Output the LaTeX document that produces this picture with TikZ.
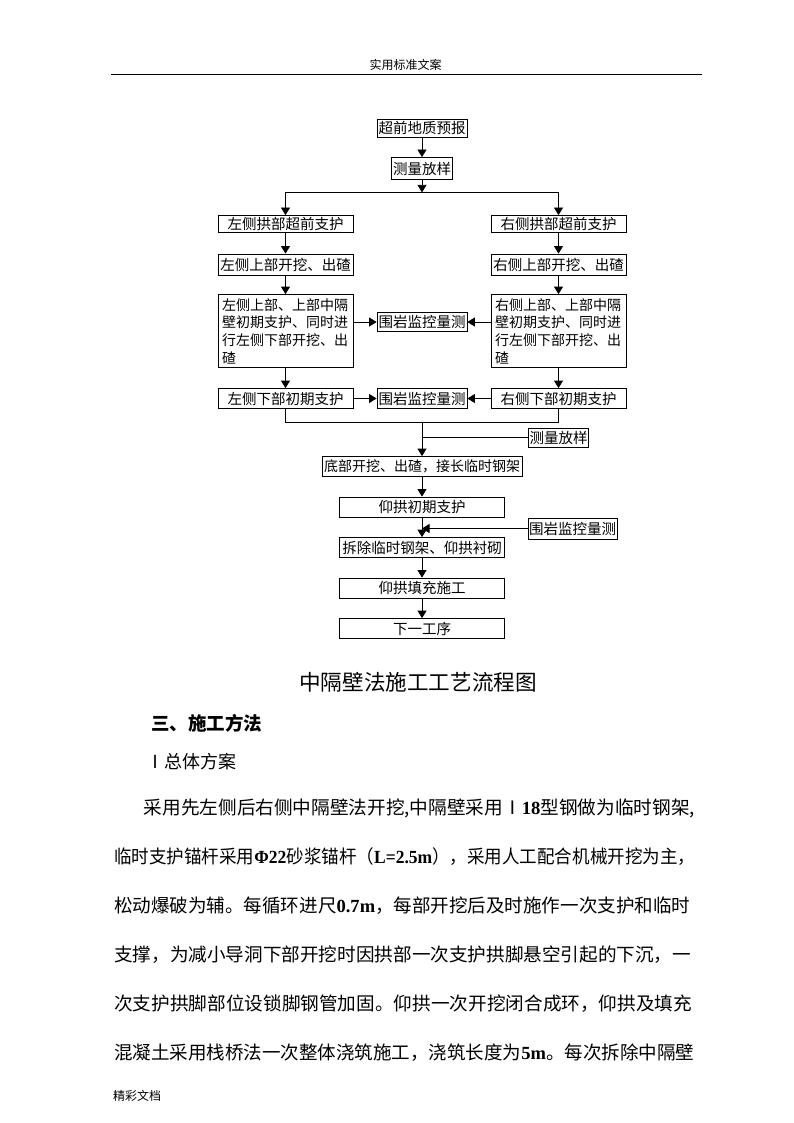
\documentclass[tikz,border=0pt]{standalone}
\usepackage{fontspec}
\usepackage{graphicx}
\setmainfont{Noto Sans CJK SC}
\newfontfamily\tnr{Liberation Serif}
\usetikzlibrary{arrows.meta, positioning}

\tikzstyle{process} = [rectangle, minimum width=135pt, minimum height=20pt, inner sep=0pt, text centered, draw=black, thick, font=\fontsize{14.5}{17.7}\selectfont]
\tikzstyle{bigbox} = [process, minimum height=73pt, text width=127pt, align=left, font=\fontsize{14}{17.7}\selectfont]
\tikzstyle{jiance} = [process, minimum width=90pt, minimum height=19pt]
\tikzstyle{zhuxian} = [process, minimum width=165pt]
\tikzstyle{zhengwen} = [anchor=west, inner sep=0pt, font=\fontsize{18.5}{18.5}\selectfont]
\tikzstyle{arrow} = [thick,->,>={Stealth[inset=0pt,length=7.5pt,width=9pt]}]

\begin{document}
\begin{tikzpicture}[x=1pt, y=-1pt, node distance=40.5pt]
\useasboundingbox (0,0) rectangle (794,1123);
 %页眉
\node (yemei) at (405.5,65) [font=\fontsize{12}{12}\selectfont] {实用标准文案};
\coordinate (yemeiL) at (111,74.5);
\coordinate (yemeiR) at (702,74.5);
\draw [thick] (yemeiL) -- (yemeiR);

 %流程框
\node (yubao) [process, minimum width=90pt, minimum height=18pt] at (422,128) {超前地质预报};
\node (celiang1) [process, below of=yubao, minimum width=61pt, minimum height=22pt] {测量放样};
\node (zuo1) [process, below of=celiang1, xshift=-136.5pt, yshift=-15pt, minimum height=17pt] {左侧拱部超前支护};
\node (you1) [process, below of=celiang1, xshift=136.5pt, yshift=-15pt, minimum height=17pt] {右侧拱部超前支护};
\node (zuo2) [process, below of=zuo1, minimum height=21pt] {左侧上部开挖、出碴};
\node (you2) [process, below of=you1, minimum height=21pt] {右侧上部开挖、出碴};
\node (zuo3) [bigbox, below of=zuo2, yshift=-26pt] {左侧上部、上部中隔\\壁初期支护、同时进\\行左侧下部开挖、出\\碴};
\node (you3) [bigbox, below of=you2, yshift=-26pt] {右侧上部、上部中隔\\壁初期支护、同时进\\行左侧下部开挖、出\\碴};
\node (jian1) [jiance, right of=zuo3, xshift=96pt, yshift=9pt] {围岩监控量测};
\node (zuo4) [process, below of=zuo3, yshift=-27pt] {左侧下部初期支护};
\node (you4) [process, below of=you3, yshift=-27pt] {右侧下部初期支护};
\node (jian2) [jiance, right of=zuo4, xshift=96pt, minimum height=20pt] {围岩监控量测};
\node (dibu) [process, below of=jian2, yshift=-27.5pt, minimum width=200pt, font=\fontsize{14}{14}\selectfont] {底部开挖、出碴，接长临时钢架};
\node (celiang2) [process, right of=dibu, xshift=96pt, yshift=29pt, minimum width=60pt, minimum height=19pt] {测量放样};
\node (yangong) [zhuxian, below of=dibu] {仰拱初期支护};
\node (jian3) [jiance, right of=yangong, xshift=110pt, yshift=-21.5pt, minimum width=89pt, minimum height=21pt] {围岩监控量测};
\node (chaichu) [zhuxian, below of=yangong] {拆除临时钢架、仰拱衬砌};
\node (tianchong) [zhuxian, below of=chaichu] {仰拱填充施工};
\node (xiayi) [zhuxian, below of=tianchong] {下一工序};

 %连线
\coordinate (fen1) at ([yshift=-12.5pt]celiang1.south);
\coordinate (he1) at ([yshift=-13pt]jian2.south);
\draw [arrow](yubao) -- (celiang1);
\draw [arrow](celiang1) -- (fen1);
\draw [arrow](fen1) -| (zuo1);
\draw [arrow](fen1) -| (you1);

 %左侧
\draw [arrow](zuo1) -- (zuo2);
\draw [arrow](zuo2) -- (zuo3);
\draw [arrow](zuo3) -- (zuo4);
\draw [arrow](zuo3.east |- jian1) -- (jian1);
\draw [arrow](zuo4) -- (jian2);

 %右侧
\draw [arrow](you1) -- (you2);
\draw [arrow](you2) -- (you3);
\draw [arrow](you3) -- (you4);
\draw [arrow](you3.west |- jian1) -- (jian1);
\draw [arrow](you4) -- (jian2);

 %合并
\draw (zuo4) |- (he1) -| (you4);
\draw [arrow](he1) -- (dibu);
\draw (celiang2) -- (celiang2 -| he1);

 %底部
\draw [arrow](dibu) -- (yangong);
\draw [arrow](yangong) -- (chaichu);
\draw [arrow](jian3) -- (jian3 -| chaichu);
\draw [arrow](chaichu) -- (tianchong);
\draw [arrow](tianchong) -- (xiayi);

 %正文
\node (biaoti) at (418,682) [font=\fontsize{21.6}{21.6}\selectfont] {中隔壁法施工工艺流程图};
\node (biaoti3) [anchor=west, inner sep=0pt, font=\fontsize{18.5}{18.5}\selectfont\bfseries] at (151,723) {三、施工方法};
\node (biaoti1) [anchor=west, inner sep=0pt, font=\fontsize{18}{18}\selectfont] at (146,762) {Ⅰ总体方案};
\node (duan1) [zhengwen] at (143.6,808) {\resizebox{551pt}{\height}{采用先左侧后右侧中隔壁法开挖,中隔壁采用Ⅰ{\tnr\bfseries 18}型钢做为临时钢架,}};
\node (duan2) [zhengwen] at (114,857) {\resizebox{581pt}{\height}{临时支护锚杆采用{\tnr\bfseries Φ22}砂浆锚杆（{\tnr\bfseries L=2.5m}），采用人工配合机械开挖为主，}};
\node (duan3) [zhengwen] at (114,906) {\resizebox{576pt}{\height}{松动爆破为辅。每循环进尺{\tnr\bfseries 0.7m}，每部开挖后及时施作一次支护和临时}};
\node (duan4) [zhengwen] at (114,955) {\resizebox{577pt}{\height}{支撑，为减小导洞下部开挖时因拱部一次支护拱脚悬空引起的下沉，一}};
\node (duan5) [zhengwen] at (114,1004) {\resizebox{578pt}{\height}{次支护拱脚部位设锁脚钢管加固。仰拱一次开挖闭合成环，仰拱及填充}};
\node (duan6) [zhengwen] at (114,1053) {\resizebox{580pt}{\height}{混凝土采用栈桥法一次整体浇筑施工，浇筑长度为{\tnr\bfseries 5m}。每次拆除中隔壁}};

 %页脚
\node (yejiao) [anchor=west, inner sep=0pt, font=\fontsize{12}{12}\selectfont] at (113,1096) {精彩文档};
\end{tikzpicture}
\end{document}
